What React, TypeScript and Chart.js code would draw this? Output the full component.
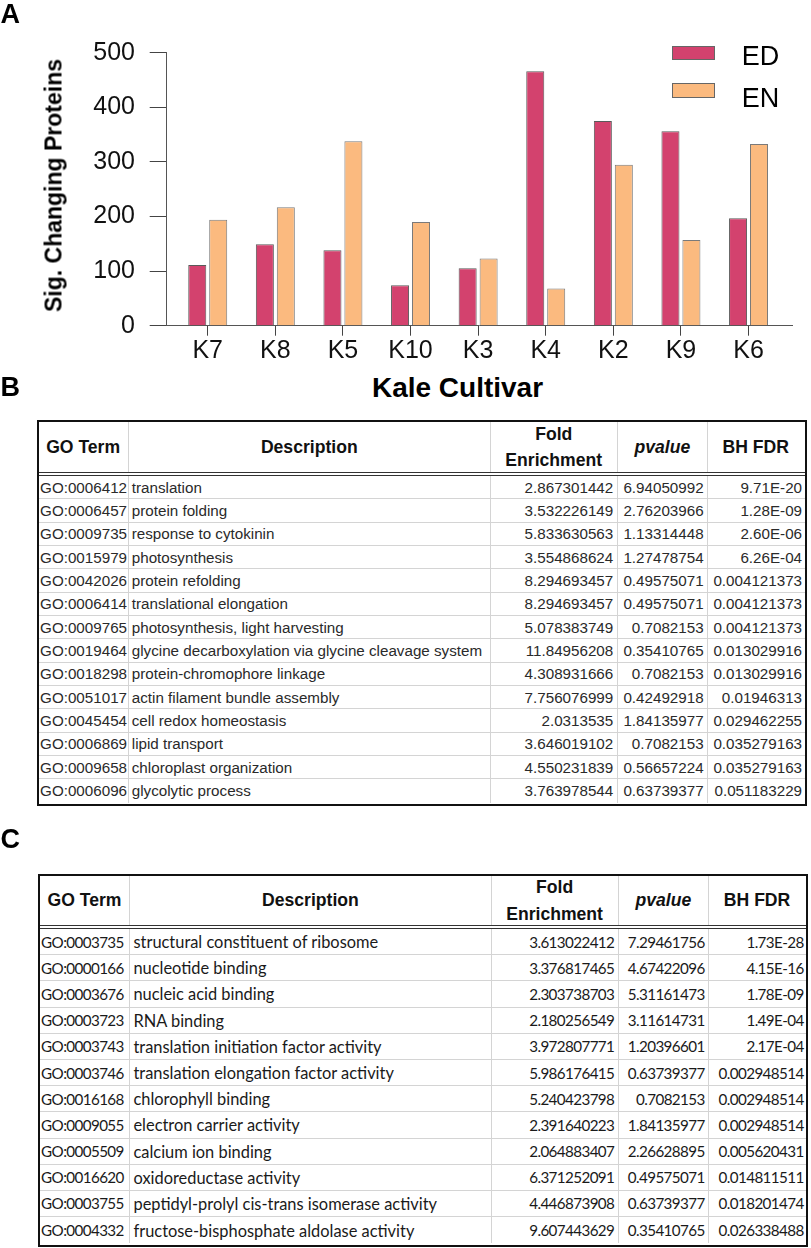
import React, { useEffect, useRef } from "react";
import { Chart, registerables } from "chart.js";

Chart.register(...registerables);

// ---------- Panel A data ----------
const cultivars = ["K7", "K8", "K5", "K10", "K3", "K4", "K2", "K9", "K6"];
const edValues = [111, 149, 138, 74, 105, 466, 375, 356, 197];
const enValues = [194, 217, 338, 190, 123, 68, 295, 157, 333];
const yTickValues = [0, 100, 200, 300, 400, 500];
const seriesNames = ["ED", "EN"];

// ---------- Panel B data ----------
const goTermsB = [
  "GO:0006412", "GO:0006457", "GO:0009735", "GO:0015979", "GO:0042026", "GO:0006414", "GO:0009765",
  "GO:0019464", "GO:0018298", "GO:0051017", "GO:0045454", "GO:0006869", "GO:0009658", "GO:0006096",
];
const descB = [
  "translation", "protein folding", "response to cytokinin", "photosynthesis", "protein refolding",
  "translational elongation", "photosynthesis, light harvesting", "glycine decarboxylation via glycine cleavage system",
  "protein-chromophore linkage", "actin filament bundle assembly", "cell redox homeostasis", "lipid transport",
  "chloroplast organization", "glycolytic process",
];
const foldB = [
  "2.867301442", "3.532226149", "5.833630563", "3.554868624", "8.294693457", "8.294693457", "5.078383749",
  "11.84956208", "4.308931666", "7.756076999", "2.0313535", "3.646019102", "4.550231839", "3.763978544",
];
const pvalB = [
  "6.94050992", "2.76203966", "1.13314448", "1.27478754", "0.49575071", "0.49575071", "0.7082153",
  "0.35410765", "0.7082153", "0.42492918", "1.84135977", "0.7082153", "0.56657224", "0.63739377",
];
const fdrB = [
  "9.71E-20", "1.28E-09", "2.60E-06", "6.26E-04", "0.004121373", "0.004121373", "0.004121373",
  "0.013029916", "0.013029916", "0.01946313", "0.029462255", "0.035279163", "0.035279163", "0.051183229",
];

// ---------- Panel C data ----------
const goTermsC = [
  "GO:0003735", "GO:0000166", "GO:0003676", "GO:0003723", "GO:0003743", "GO:0003746",
  "GO:0016168", "GO:0009055", "GO:0005509", "GO:0016620", "GO:0003755", "GO:0004332",
];
const descC = [
  "structural constituent of ribosome", "nucleotide binding", "nucleic acid binding", "RNA binding",
  "translation initiation factor activity", "translation elongation factor activity", "chlorophyll binding",
  "electron carrier activity", "calcium ion binding", "oxidoreductase activity",
  "peptidyl-prolyl cis-trans isomerase activity", "fructose-bisphosphate aldolase activity",
];
const foldC = [
  "3.613022412", "3.376817465", "2.303738703", "2.180256549", "3.972807771", "5.986176415",
  "5.240423798", "2.391640223", "2.064883407", "6.371252091", "4.446873908", "9.607443629",
];
const pvalC = [
  "7.29461756", "4.67422096", "5.31161473", "3.11614731", "1.20396601", "0.63739377",
  "0.7082153", "1.84135977", "2.26628895", "0.49575071", "0.63739377", "0.35410765",
];
const fdrC = [
  "1.73E-28", "4.15E-16", "1.78E-09", "1.49E-04", "2.17E-04", "0.002948514",
  "0.002948514", "0.002948514", "0.005620431", "0.014811511", "0.018201474", "0.026338488",
];

const ED_COLOR = "#D3426E";
const EN_COLOR = "#FBBA7F";
const ARIAL = '"Liberation Sans", Arial, Helvetica, sans-serif';
const LATO = 'Lato, "Open Sans", sans-serif';

const CANVAS_W = 811;
const CANVAS_H = 372;

function BarChart() {
  const ref = useRef<HTMLCanvasElement>(null);
  useEffect(() => {
    if (!ref.current) return;
    const chart = new Chart(ref.current, {
      type: "bar",
      data: {
        datasets: [
          {
            label: seriesNames[0],
            data: edValues.map((y, i) => ({ x: i, y })),
            backgroundColor: ED_COLOR,
            borderColor: "#5a5a5a",
            borderWidth: 1,
            categoryPercentage: 0.62,
            barPercentage: 0.86,
          },
          {
            label: seriesNames[1],
            data: enValues.map((y, i) => ({ x: i, y })),
            backgroundColor: EN_COLOR,
            borderColor: "#7a7a7a",
            borderWidth: 1,
            categoryPercentage: 0.62,
            barPercentage: 0.86,
          },
        ],
      },
      options: {
        responsive: false,
        animation: false,
        layout: { padding: { left: 0, top: 52.7, right: 19, bottom: 0 } },
        plugins: { legend: { display: false }, tooltip: { enabled: false }, title: { display: false } },
        scales: {
          x: {
            type: "linear",
            min: -0.607,
            max: 8.643,
            offset: false,
            afterBuildTicks: (s: any) => {
              s.ticks = cultivars.map((_, i) => ({ value: i }));
            },
            afterFit: (s: any) => {
              s.height = CANVAS_H - 325.7;
            },
            grid: { drawOnChartArea: false, offset: false, tickLength: 10, color: "#444", lineWidth: 1 },
            border: { color: "#555", width: 1 },
            ticks: {
              callback: (v: any) => cultivars[v as number] ?? "",
              font: { family: ARIAL, size: 25 },
              color: "#111",
              padding: 0,
              autoSkip: false,
              maxRotation: 0,
              minRotation: 0,
            },
          },
          y: {
            type: "linear",
            min: 0,
            max: 500,
            afterBuildTicks: (s: any) => {
              s.ticks = yTickValues.map((v) => ({ value: v }));
            },
            afterFit: (s: any) => {
              s.width = 166.7;
            },
            grid: { drawOnChartArea: false, tickLength: 17, color: "#444", lineWidth: 1 },
            border: { color: "#555", width: 1 },
            ticks: {
              font: { family: ARIAL, size: 25 },
              color: "#111",
              padding: 14.7,
            },
          },
        },
      },
    });
    return () => chart.destroy();
  }, []);
  return (
    <canvas
      ref={ref}
      width={CANVAS_W}
      height={CANVAS_H}
      style={{ position: "absolute", left: 0, top: 0, width: CANVAS_W, height: CANVAS_H }}
    />
  );
}

function Label({ text, left, capTop, size, bold = true }: { text: string; left: number; capTop: number; size: number; bold?: boolean }) {
  return (
    <div
      style={{
        position: "absolute",
        left,
        top: capTop - 0.13 * size,
        fontFamily: ARIAL,
        fontSize: size,
        lineHeight: `${size}px`,
        fontWeight: bold ? "bold" : "normal",
        color: "#000",
        whiteSpace: "nowrap",
      }}
    >
      {text}
    </div>
  );
}

function Legend() {
  const colors = [ED_COLOR, EN_COLOR];
  const swatchTops = [45.7, 83.3];
  const capTops = [46.5, 88.5];
  return (
    <>
      {seriesNames.map((n, i) => (
        <React.Fragment key={n}>
          <div
            style={{
              position: "absolute",
              left: 671.7,
              top: swatchTops[i],
              width: 43.3,
              height: 14.3,
              background: colors[i],
              border: "1px solid #666",
              boxSizing: "border-box",
            }}
          />
          <Label text={n} left={741.7} capTop={capTops[i]} size={27} bold={false} />
        </React.Fragment>
      ))}
    </>
  );
}

type CellFont = { family: string; size: number; spacing: number };

type TableSpec = {
  left: number;
  top: number;
  width: number;
  height: number;
  headerH: number;
  rowH: number;
  cols: number[];
  fonts: CellFont[];
  bodyColor: string;
  goTerms: string[];
  desc: string[];
  fold: string[];
  pval: string[];
  fdr: string[];
};

const GRID = "#d4d4d4";

function GoTable(p: TableSpec) {
  const border = 2.7;
  const headerCell = (content: React.ReactNode, w: number, last: boolean) => (
    <div
      style={{
        width: w,
        height: p.headerH,
        boxSizing: "border-box",
        borderRight: last ? "none" : `1px solid ${GRID}`,
        display: "flex",
        alignItems: "center",
        justifyContent: "center",
        textAlign: "center",
        fontFamily: ARIAL,
        fontWeight: "bold",
        fontSize: 17.6,
        color: "#111",
      }}
    >
      {content}
    </div>
  );
  const rows = p.goTerms.map((g, i) => [g, p.desc[i], p.fold[i], p.pval[i], p.fdr[i]]);
  const aligns = ["flex-start", "flex-start", "flex-end", "flex-end", "flex-end"];
  const padL = [1.4, 3.2, 0, 0, 0];
  const padR = [0, 0, 3.3, 3.6, 1.2];
  return (
    <div
      style={{
        position: "absolute",
        left: p.left,
        top: p.top,
        width: p.width,
        height: p.height,
        border: `${border}px solid #111`,
        boxSizing: "border-box",
        overflow: "hidden",
        background: "#fff",
      }}
    >
      <div style={{ display: "flex", borderBottom: "4px double #333" }}>
        {headerCell("GO Term", p.cols[0], false)}
        {headerCell("Description", p.cols[1], false)}
        {headerCell(
          <span style={{ lineHeight: "26.5px" }}>
            Fold
            <br />
            Enrichment
          </span>,
          p.cols[2],
          false
        )}
        {headerCell(<i>pvalue</i>, p.cols[3], false)}
        {headerCell("BH FDR", p.cols[4], true)}
      </div>
      {rows.map((r, ri) => (
        <div
          key={ri}
          style={{
            display: "flex",
            height: p.rowH,
            boxSizing: "border-box",
            borderBottom: ri === rows.length - 1 ? "none" : `1px solid ${GRID}`,
          }}
        >
          {r.map((c, ci) => (
            <div
              key={ci}
              style={{
                width: p.cols[ci],
                boxSizing: "border-box",
                borderRight: ci === 4 ? "none" : `1px solid ${GRID}`,
                display: "flex",
                alignItems: "center",
                justifyContent: aligns[ci],
                paddingLeft: padL[ci],
                paddingRight: padR[ci],
                fontFamily: p.fonts[ci].family,
                fontSize: p.fonts[ci].size,
                letterSpacing: p.fonts[ci].spacing,
                color: p.bodyColor,
                whiteSpace: "nowrap",
                overflow: "hidden",
              }}
            >
              {c}
            </div>
          ))}
        </div>
      ))}
    </div>
  );
}

const fontB: CellFont = { family: ARIAL, size: 15.2, spacing: 0 };
const fontsB = [fontB, fontB, fontB, fontB, fontB];
const numC: CellFont = { family: LATO, size: 15.2, spacing: -0.6 };
const descFontC: CellFont = { family: LATO, size: 16.4, spacing: 0 };
const fontsC = [numC, descFontC, numC, numC, numC];

export default function App() {
  return (
    <div
      style={{
        position: "absolute",
        left: 0,
        top: 0,
        width: 811,
        height: 1248,
        background: "#fff",
        overflow: "hidden",
      }}
    >
      <BarChart />
      <Legend />
      <Label text="A" left={0.5} capTop={5} size={27} />
      <Label text="B" left={0.5} capTop={377.5} size={27} />
      <Label text="C" left={0.5} capTop={830} size={27} />
      <div
        style={{
          position: "absolute",
          left: 53.5 - 160,
          top: 185 - 11.5,
          width: 320,
          height: 23,
          lineHeight: "23px",
          textAlign: "center",
          fontFamily: ARIAL,
          fontWeight: "bold",
          fontSize: 23,
          color: "#000",
          transform: "rotate(-90deg)",
          whiteSpace: "nowrap",
        }}
      >
        Sig. Changing Proteins
      </div>
      <div
        style={{
          position: "absolute",
          left: 457.5 - 150,
          top: 378 - 0.13 * 28,
          width: 300,
          lineHeight: "28px",
          textAlign: "center",
          fontFamily: ARIAL,
          fontWeight: "bold",
          fontSize: 28,
          color: "#000",
          whiteSpace: "nowrap",
        }}
      >
        Kale Cultivar
      </div>
      <GoTable
        left={36.7}
        top={420}
        width={770}
        height={386}
        headerH={50}
        rowH={23.33}
        cols={[89.9, 362.4, 126.6, 90.7, 95]}
        fonts={fontsB}
        bodyColor="#2a2a2a"
        goTerms={goTermsB}
        desc={descB}
        fold={foldB}
        pval={pvalB}
        fdr={fdrB}
      />
      <GoTable
        left={37.7}
        top={874}
        width={770.6}
        height={372.7}
        headerH={49}
        rowH={26.2}
        cols={[90.6, 361.3, 127, 90.7, 95.6]}
        fonts={fontsC}
        bodyColor="#1a1a1a"
        goTerms={goTermsC}
        desc={descC}
        fold={foldC}
        pval={pvalC}
        fdr={fdrC}
      />
    </div>
  );
}
